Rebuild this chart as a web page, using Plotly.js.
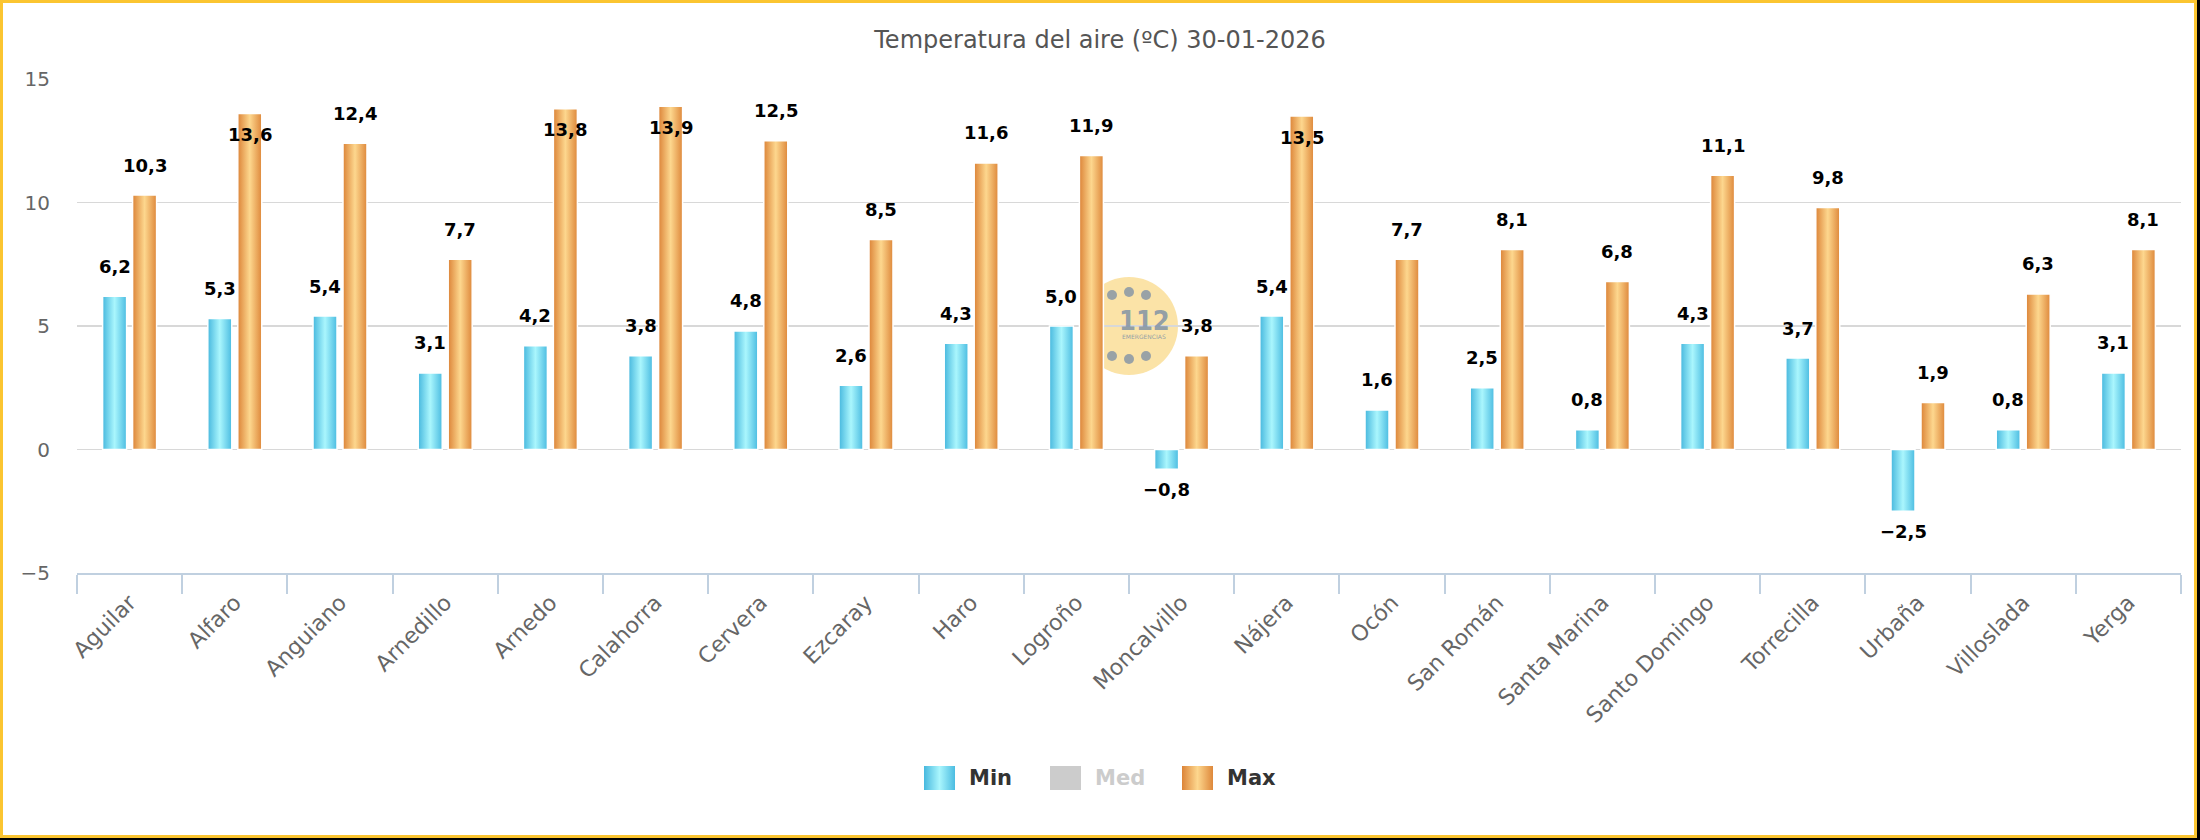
<!DOCTYPE html>
<html>
<head>
<meta charset="utf-8">
<script src="https://cdn.plot.ly/plotly-3.0.1.min.js"></script>
<style>
  html, body { margin: 0; padding: 0; background: #fff; }
  #wrap { position: relative; width: 2200px; height: 840px; overflow: hidden; }
  #chart { width: 2200px; height: 840px; }
  .edge { position: absolute; left: 0; top: 0; pointer-events: none; box-sizing: border-box; }
  #outer { width: 2200px; height: 840px; border-right: 3px solid #000; border-bottom: 2px solid #000; }
  #inner { width: 2197px; height: 838px; border: 3px solid #fbc531; }
</style>
</head>
<body>
<div id="wrap">
  <div id="chart"></div>
  <div id="outer" class="edge"></div>
  <div id="inner" class="edge"></div>
</div>
<script>
// Weather stations of La Rioja and their air temperatures (ºC)
const stations = ['Aguilar', 'Alfaro', 'Anguiano', 'Arnedillo', 'Arnedo', 'Calahorra', 'Cervera',
  'Ezcaray', 'Haro', 'Logroño', 'Moncalvillo', 'Nájera', 'Ocón', 'San Román', 'Santa Marina',
  'Santo Domingo', 'Torrecilla', 'Urbaña', 'Villoslada', 'Yerga'];
const tMin = [6.2, 5.3, 5.4, 3.1, 4.2, 3.8, 4.8, 2.6, 4.3, 5.0, -0.8, 5.4, 1.6, 2.5, 0.8, 4.3, 3.7, -2.5, 0.8, 3.1];
const tMax = [10.3, 13.6, 12.4, 7.7, 13.8, 13.9, 12.5, 8.5, 11.6, 11.9, 3.8, 13.5, 7.7, 8.1, 6.8, 11.1, 9.8, 1.9, 6.3, 8.1];
const seriesNames = ['Min', 'Med', 'Max'];
const yTicks = [-5, 0, 5, 10, 15];
const chartTitle = 'Temperatura del aire (ºC) 30-01-2026';

// Page geometry
const W = 2200, H = 840;
const M = { l: 77, r: 19, t: 79, b: 267 };
const px2x = px => (px - M.l) / (W - M.l - M.r);
const px2y = py => (H - M.b - py) / (H - M.t - M.b);
const FONT = 'DejaVu Sans';

const colMin = '#4fbfe3', colMax = '#e08b3d', colMed = '#cccccc';
const yLo = yTicks[0], yHi = yTicks[yTicks.length - 1];

const barStyle = c => ({ color: c, line: { color: '#ffffff', width: 1.5 } });
const data = [
  { type: 'bar', name: seriesNames[0], x: stations, y: tMin, marker: barStyle(colMin) },
  { type: 'bar', name: seriesNames[2], x: stations, y: tMax, marker: barStyle(colMax) }
];

// Value labels: "6,2" style, above positive bars, below negative ones,
// tucked inside the bar when there is no room above it.
const fmt = v => (v < 0 ? '\u2212' : '') + Math.abs(v).toFixed(1).replace('.', ',');
const annotations = [];
function addLabels(values, xshift) {
  values.forEach((v, i) => {
    let yshift;
    if (v < 0) yshift = -20;
    else if (v + 1.55 > yHi) yshift = -21;
    else yshift = 30;
    annotations.push({
      x: stations[i], y: v, xref: 'x', yref: 'y', text: fmt(v), showarrow: false,
      xshift: xshift, yshift: yshift,
      font: { family: FONT, size: 18, color: '#000', weight: 'bold' }
    });
  });
}
addLabels(tMin, -15);
addLabels(tMax, 15);

const shapes = [];

// 112 emblem in the middle of the plot area, behind the grid
const logo = { cx: 1129, cy: 326, r: 49 };
shapes.push({
  type: 'circle', xref: 'paper', yref: 'paper', layer: 'below',
  x0: px2x(logo.cx - logo.r), x1: px2x(logo.cx + logo.r),
  y0: px2y(logo.cy + logo.r), y1: px2y(logo.cy - logo.r),
  fillcolor: 'rgba(248,200,80,0.5)', line: { width: 0 }
});
[[-17, -31], [0, -34], [17, -31], [-17, 30], [0, 33], [17, 30]].forEach(([dx, dy]) => {
  const r = 5;
  shapes.push({
    type: 'circle', xref: 'paper', yref: 'paper', layer: 'below',
    x0: px2x(logo.cx + dx - r), x1: px2x(logo.cx + dx + r),
    y0: px2y(logo.cy + dy + r), y1: px2y(logo.cy + dy - r),
    fillcolor: 'rgba(120,140,165,0.75)', line: { width: 0 }
  });
});
annotations.push({
  xref: 'paper', yref: 'paper', x: px2x(1144), y: px2y(320), text: '<b>112</b>', showarrow: false,
  font: { family: 'DejaVu Sans Condensed', size: 27, color: 'rgba(120,140,165,0.8)' }
});
annotations.push({
  xref: 'paper', yref: 'paper', x: px2x(1144), y: px2y(337), text: 'EMERGENCIAS', showarrow: false,
  font: { family: FONT, size: 6, color: 'rgba(120,140,165,0.8)' }
});

// Legend row at the bottom (Med is switched off, so it is greyed)
const legendItems = [
  { name: seriesNames[0], color: colMin, text: '#333333', x: 924 },
  { name: seriesNames[1], color: colMed, text: '#cccccc', x: 1050 },
  { name: seriesNames[2], color: colMax, text: '#333333', x: 1182 }
];
const legY = 778;
legendItems.forEach(it => {
  shapes.push({
    type: 'rect', xref: 'paper', yref: 'paper',
    x0: px2x(it.x), x1: px2x(it.x + 31), y0: px2y(legY + 12), y1: px2y(legY - 12),
    fillcolor: it.color, line: { width: 0 }
  });
  annotations.push({
    xref: 'paper', yref: 'paper', x: px2x(it.x + 43), y: px2y(legY), xanchor: 'left', yanchor: 'middle',
    text: it.name, showarrow: false,
    font: { family: FONT, size: 21, color: it.text, weight: 'bold' }
  });
});

const layout = {
  width: W, height: H,
  margin: M,
  paper_bgcolor: '#ffffff', plot_bgcolor: '#ffffff',
  showlegend: false,
  barmode: 'group', bargap: 0.43, bargroupgap: 0.2,
  font: { family: FONT, color: '#666666' },
  title: {
    text: chartTitle, x: 0.5, xanchor: 'center', xref: 'container',
    y: 1 - 40 / H, yanchor: 'middle', yref: 'container',
    font: { family: FONT, size: 24, color: '#555555' }
  },
  xaxis: {
    type: 'category', tickson: 'boundaries',
    ticks: 'outside', ticklen: 19, tickwidth: 2, tickcolor: '#c0d0e0',
    showline: true, linecolor: '#c0d0e0', linewidth: 2,
    showgrid: false, zeroline: false,
    tickangle: -45, ticklabelstandoff: 6,
    tickfont: { family: FONT, size: 22, color: '#666666' }
  },
  yaxis: {
    range: [yLo, yHi], tickvals: yTicks, ticktext: yTicks.map(v => (v < 0 ? '\u2212' : '') + Math.abs(v)),
    showgrid: true, gridcolor: '#d8d8d8', gridwidth: 1.5,
    zeroline: false, showline: false, ticks: '',
    ticklabelstandoff: 26,
    tickfont: { family: FONT, size: 20, color: '#666666' }
  },
  annotations: annotations,
  shapes: shapes
};

// Cylinder-like horizontal gradients for the bars and legend swatches
function hexToRgb(h) {
  const n = parseInt(h.slice(1), 16);
  return 'rgb(' + ((n >> 16) & 255) + ', ' + ((n >> 8) & 255) + ', ' + (n & 255) + ')';
}
function applyGradients(gd) {
  const ns = 'http://www.w3.org/2000/svg';
  const svg = gd.querySelector('svg.main-svg');
  let defs = svg.querySelector('defs');
  if (!defs) { defs = document.createElementNS(ns, 'defs'); svg.insertBefore(defs, svg.firstChild); }
  function addGrad(id, stops) {
    const g = document.createElementNS(ns, 'linearGradient');
    g.setAttribute('id', id);
    g.setAttribute('x1', '0'); g.setAttribute('y1', '0');
    g.setAttribute('x2', '1'); g.setAttribute('y2', '0');
    stops.forEach(([o, c]) => {
      const s = document.createElementNS(ns, 'stop');
      s.setAttribute('offset', o);
      s.setAttribute('stop-color', c);
      g.appendChild(s);
    });
    defs.appendChild(g);
  }
  addGrad('gradMin', [[0, '#47b8de'], [0.5, '#aaf6fd'], [1, '#4bbce1']]);
  addGrad('gradMax', [[0, '#dc8438'], [0.5, '#fdd78e'], [1, '#de883b']]);
  const map = {};
  map[hexToRgb(colMin)] = 'url(#gradMin)';
  map[hexToRgb(colMax)] = 'url(#gradMax)';
  gd.querySelectorAll('path').forEach(p => {
    const f = p.style.fill;
    if (map[f]) p.style.fill = map[f];
  });
}

Plotly.newPlot('chart', data, layout, { staticPlot: true, responsive: false }).then(applyGradients);
</script>
</body>
</html>
